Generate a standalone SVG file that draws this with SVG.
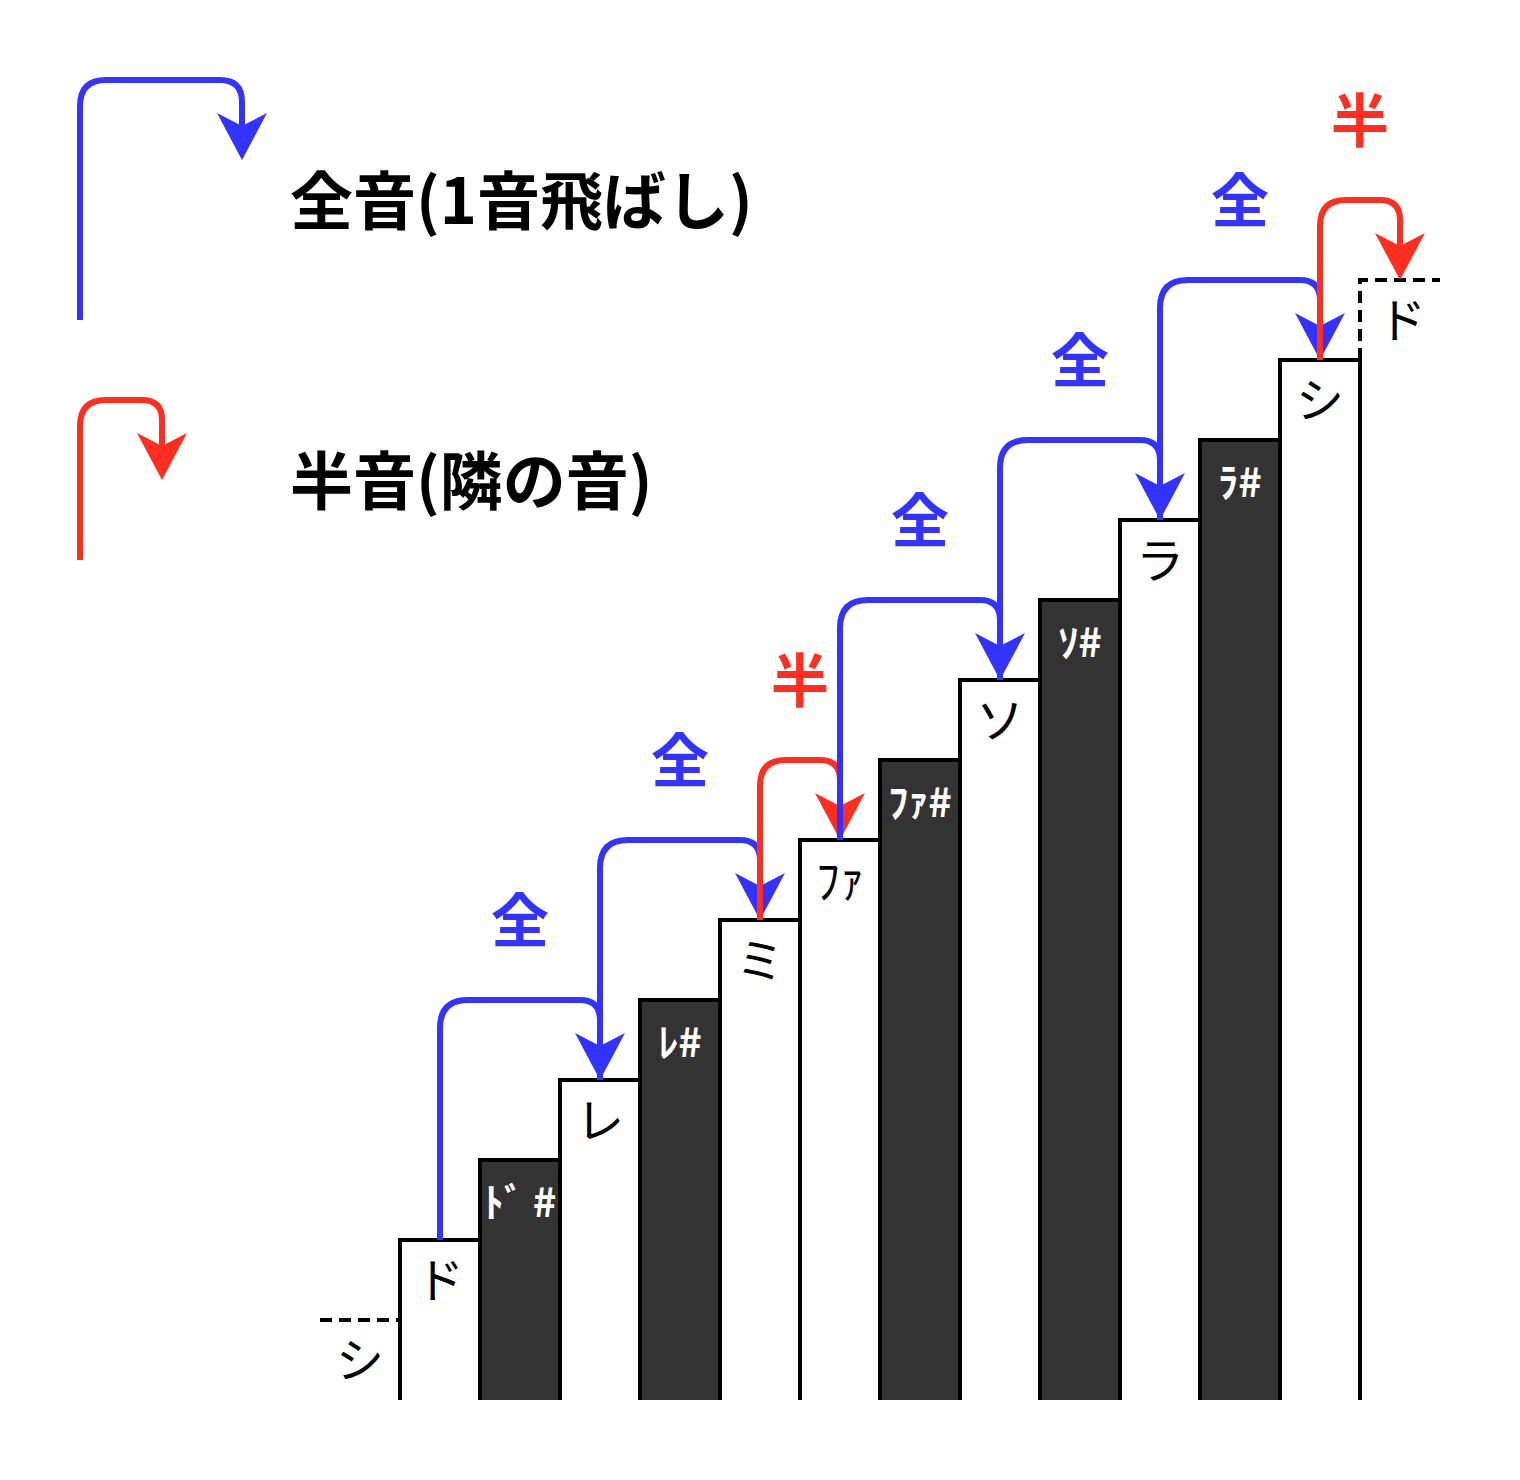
<svg xmlns="http://www.w3.org/2000/svg" width="1520" height="1480" viewBox="0 0 1520 1480">
<style>
.w{fill:#ffffff;stroke:#000000;stroke-width:4}
.b{fill:#333333;stroke:#000000;stroke-width:4}
.d{fill:none;stroke:#000000;stroke-width:4;stroke-dasharray:12 7}
.t{font-family:"Noto Sans CJK JP","Noto Sans",sans-serif;text-anchor:middle}
.lw{font-size:48px;fill:#000000}
.lb{font-size:40px;font-weight:bold;fill:#ffffff}
.big{font-family:"Noto Sans CJK JP","Noto Sans",sans-serif;font-size:63px;font-weight:bold;fill:#000000}
.lbl{font-size:58px;font-weight:bold}
.blue{fill:#3333ff}
.red{fill:#ff2e1f}
.cb{fill:none;stroke:#3333ff;stroke-width:6;marker-end:url(#ab)}
.cr{fill:none;stroke:#ff2e1f;stroke-width:6;marker-end:url(#ar)}
</style>
<defs>
<marker id="ab" markerUnits="userSpaceOnUse" orient="auto" markerWidth="60" markerHeight="60" viewBox="-15 -30 60 60" refX="0" refY="0"><path d="M34,0 L-13,-25 L0,0 L-13,25 Z" fill="#3333ff"/></marker>
<marker id="ar" markerUnits="userSpaceOnUse" orient="auto" markerWidth="60" markerHeight="60" viewBox="-15 -30 60 60" refX="0" refY="0"><path d="M34,0 L-13,-25 L0,0 L-13,25 Z" fill="#ff2e1f"/></marker>
</defs>
<rect width="1520" height="1480" fill="#ffffff"/>

<g id="legend">
<path class="cb" d="M80,320 V106 Q80,80 106,80 H220 Q242,80 242,102 V126"/>
<text class="big" x="290" y="224">全音(1音飛ばし)</text>
<path class="cr" d="M80,560 V426 Q80,400 106,400 H142 Q162,400 162,420 V446"/>
<text class="big" x="290" y="504">半音(隣の音)</text>
</g>

<g id="prev-si">
<path class="d" d="M320,1320 H400"/>
<text class="t lw" x="360" y="1378">シ</text>
</g>
<g id="do"><path class="w" d="M400,1400 V1240 H480 V1400"/><text class="t lw" x="440" y="1298">ド</text></g>
<g id="do-sharp"><path class="b" d="M480,1400 V1160 H560 V1400"/><text class="t lb" x="520" y="1217">ﾄﾞ #</text></g>
<g id="re"><path class="w" d="M560,1400 V1080 H640 V1400"/><text class="t lw" x="600" y="1138">レ</text></g>
<g id="re-sharp"><path class="b" d="M640,1400 V1000 H720 V1400"/><text class="t lb" x="680" y="1057">ﾚ#</text></g>
<g id="mi"><path class="w" d="M720,1400 V920 H800 V1400"/><text class="t lw" x="760" y="978">ミ</text></g>
<g id="fa"><path class="w" d="M800,1400 V840 H880 V1400"/><text class="t lw" x="840" y="898">ﾌｧ</text></g>
<g id="fa-sharp"><path class="b" d="M880,1400 V760 H960 V1400"/><text class="t lb" x="920" y="817">ﾌｧ#</text></g>
<g id="sol"><path class="w" d="M960,1400 V680 H1040 V1400"/><text class="t lw" x="1000" y="738">ソ</text></g>
<g id="sol-sharp"><path class="b" d="M1040,1400 V600 H1120 V1400"/><text class="t lb" x="1080" y="657">ｿ#</text></g>
<g id="la"><path class="w" d="M1120,1400 V520 H1200 V1400"/><text class="t lw" x="1160" y="578">ラ</text></g>
<g id="la-sharp"><path class="b" d="M1200,1400 V440 H1280 V1400"/><text class="t lb" x="1240" y="497">ﾗ#</text></g>
<g id="si"><path class="w" d="M1280,1400 V360 H1360 V1400"/><text class="t lw" x="1320" y="418">シ</text></g>
<g id="next-do">
<path class="d" d="M1360,360 V280 H1440"/>
<text class="t lw" x="1402" y="338">ド</text>
</g>

<g id="connectors">
<path class="cb" d="M440,1240 V1028 Q440,1000 468,1000 H580 Q600,1000 600,1020 V1046"/>
<path class="cb" d="M600,1080 V868 Q600,840 628,840 H740 Q760,840 760,860 V886"/>
<path class="cr" d="M760,920 V786 Q760,760 786,760 H820 Q840,760 840,780 V806"/>
<path class="cb" d="M840,840 V628 Q840,600 868,600 H980 Q1000,600 1000,620 V646"/>
<path class="cb" d="M1000,680 V468 Q1000,440 1028,440 H1140 Q1160,440 1160,460 V486"/>
<path class="cb" d="M1160,520 V308 Q1160,280 1188,280 H1300 Q1320,280 1320,300 V326"/>
<path class="cr" d="M1320,360 V226 Q1320,200 1346,200 H1380 Q1400,200 1400,220 V246"/>
</g>

<g id="labels">
<text class="t lbl blue" x="520" y="942">全</text>
<text class="t lbl blue" x="680" y="782">全</text>
<text class="t lbl red" x="800" y="702">半</text>
<text class="t lbl blue" x="920" y="542">全</text>
<text class="t lbl blue" x="1080" y="382">全</text>
<text class="t lbl blue" x="1240" y="222">全</text>
<text class="t lbl red" x="1360" y="142">半</text>
</g>
</svg>
